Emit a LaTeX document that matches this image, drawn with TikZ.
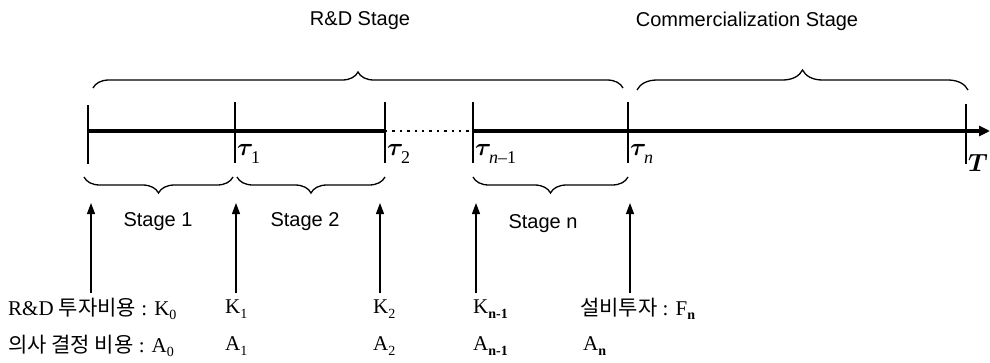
\documentclass[tikz,border=0pt]{standalone}
\usepackage{fontspec}
\usepackage{bm}
\setmainfont{Liberation Serif}
\setsansfont{Liberation Sans}
\newfontfamily\kofont{Noto Sans CJK KR}
\usetikzlibrary{decorations.pathreplacing,arrows.meta}
\newcommand{\lsub}[1]{\raisebox{-0.22em}{\fontsize{14}{14}\selectfont #1}}
\newcommand{\bsub}[1]{\raisebox{-0.22em}{\fontsize{14}{14}\selectfont\bfseries #1}}
\newcommand{\tsub}[1]{\kern-2.5pt\raisebox{-0.3em}{\fontsize{18}{18}\selectfont #1}}
\begin{document}
\begin{tikzpicture}[x=1pt,y=-1pt,
  axisline/.style={line width=4.5pt},
  dotline/.style={line width=2.6pt,dash pattern=on 2.4pt off 5pt},
  tickline/.style={line width=1.2pt},
  bracetop/.style={line width=1.3pt,decorate,decoration={brace,amplitude=#1}},
  bracebot/.style={line width=1.3pt,decorate,decoration={brace,mirror,amplitude=#1}},
  uparrow/.style={line width=1.2pt,-{Triangle[length=11pt,width=8pt]}},
  sanslabel/.style={font=\sffamily\fontsize{20}{24}\selectfont,inner sep=0pt},
  taulabel/.style={anchor=west,inner sep=0pt,font=\fontsize{27}{28}\selectfont},
  costlabel/.style={anchor=west,inner sep=0pt,font=\fontsize{21}{24}\selectfont}
]
\useasboundingbox (0,0) rectangle (990,362);

% axis points
\coordinate (s) at (88,131);
\coordinate (t1) at (235,131);
\coordinate (t2) at (385,131);
\coordinate (tn1) at (473,131);
\coordinate (tn) at (628,131);
\coordinate (te) at (966,131);
\coordinate (tend) at (990,131);

\draw[axisline] (s) -- (t2);
\draw[dotline] (t2) -- (tn1);
\draw[axisline,-{Triangle[length=11pt,width=10pt]}] (tn1) -- (tend);

% ticks
\draw[tickline] (88,105) -- (88,164);
\draw[tickline] (235,102) -- (235,163);
\draw[tickline] (385,102) -- (385,163);
\draw[tickline] (473,102) -- (473,163);
\draw[tickline] (628,102) -- (628,163);
\draw[tickline] (966,104) -- (966,164);

% tau labels
\node[taulabel] (tau1) at (237,154) {$\bm{\tau}$\tsub{1}};
\node[taulabel] (tau2) at (387,154) {$\bm{\tau}$\tsub{2}};
\node[taulabel] (taun1) at (475,154) {$\bm{\tau}$\tsub{\itshape n\/\upshape --1}};
\node[taulabel] (taun) at (630,154) {$\bm{\tau}$\tsub{\itshape n}};
\node[inner sep=0pt,font=\fontsize{32}{34}\selectfont] (Tlab) at (978,163) {$\bm{T}$};

% top braces
\draw[bracetop=16pt] (93,88) -- (623,88);
\draw[bracetop=20pt] (637,90) -- (968,90);
\node[sanslabel] (rd) at (360,21) {R\&D Stage};
\node[sanslabel] (cs) at (747,21) {Commercialization Stage};

% bottom braces
\draw[bracebot=16pt] (84,177) -- (233,177);
\draw[bracebot=16pt] (237,177) -- (385,177);
\draw[bracebot=16pt] (473,177) -- (628,177);
\node[sanslabel] (st1) at (158,222) {Stage 1};
\node[sanslabel] (st2) at (305,222) {Stage 2};
\node[sanslabel] (stn) at (543,224) {Stage n};

% arrows
\coordinate (a0b) at (91,293); \coordinate (a0t) at (91,203);
\coordinate (a1b) at (236,293); \coordinate (a1t) at (236,203);
\coordinate (a2b) at (380,293); \coordinate (a2t) at (380,203);
\coordinate (a3b) at (476,293); \coordinate (a3t) at (476,203);
\coordinate (a4b) at (630,293); \coordinate (a4t) at (630,203);
\draw[uparrow] (a0b) -- (a0t);
\draw[uparrow] (a1b) -- (a1t);
\draw[uparrow] (a2b) -- (a2t);
\draw[uparrow] (a3b) -- (a3t);
\draw[uparrow] (a4b) -- (a4t);

% cost labels
\node[costlabel] (k0) at (8,309) {R\&D {\kofont 투자비용} : K\lsub{0}};
\node[costlabel] (k1) at (225,309) {K\lsub{1}};
\node[costlabel] (k2) at (373,309) {K\lsub{2}};
\node[costlabel] (kn1) at (473,309) {K\bsub{n-1}};
\node[costlabel] (fn) at (580,309) {{\kofont 설비투자} : F\bsub{n}};
\node[costlabel] (a0) at (8,346) {{\kofont 의사 결정 비용} : A\lsub{0}};
\node[costlabel] (a1) at (225,346) {A\lsub{1}};
\node[costlabel] (a2) at (373,346) {A\lsub{2}};
\node[costlabel] (an1) at (473,346) {A\bsub{n-1}};
\node[costlabel] (an) at (583,346) {A\bsub{n}};
\end{tikzpicture}
\end{document}
